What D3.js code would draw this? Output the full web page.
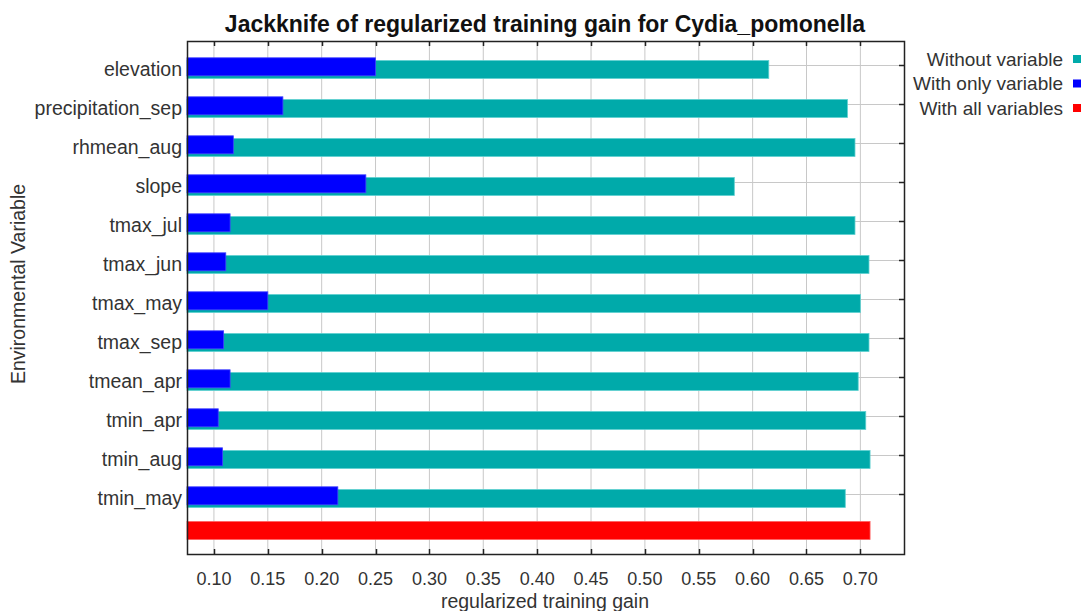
<!DOCTYPE html>
<html>
<head>
<meta charset="utf-8">
<script src="https://cdn.jsdelivr.net/npm/d3@7"></script>
<style>
  body { margin: 0; background: #fff; }
  text { font-family: "Liberation Sans", Arial, sans-serif; fill: #333; }
</style>
</head>
<body>
<div id="chart"></div>
<script>
// chart data
const variables = ["elevation", "precipitation_sep", "rhmean_aug", "slope", "tmax_jul", "tmax_jun",
    "tmax_may", "tmax_sep", "tmean_apr", "tmin_apr", "tmin_aug", "tmin_may"];
const withoutVariable = [0.615, 0.688, 0.695, 0.583, 0.695, 0.708, 0.700, 0.708, 0.698, 0.705, 0.709, 0.686];
const withOnlyVariable = [0.250, 0.164, 0.118, 0.241, 0.115, 0.111, 0.150, 0.109, 0.115, 0.104, 0.108, 0.215];
const withAllVariables = 0.709;
const xTicks = [0.10, 0.15, 0.20, 0.25, 0.30, 0.35, 0.40, 0.45, 0.50, 0.55, 0.60, 0.65, 0.70];
const legendLabels = ["Without variable", "With only variable", "With all variables"];

const width = 1083, height = 611;
const plot = { left: 187, right: 904, top: 41, bottom: 554 };
const colors = { without: "#00aaaa", only: "#0000ff", all: "#ff0000" };
const strokes = { without: "#5fd0d0", only: "#4040ff", all: "#ff6060" };

const svg = d3.select("#chart").append("svg")
    .attr("width", width)
    .attr("height", height);

// Scales
const xScale = d3.scaleLinear()
    .domain([0.075, 0.7405])
    .range([plot.left, plot.right]);

const yScale = d3.scalePoint()
    .domain([...variables, "__all__"])
    .range([65, 533]);

// Grid lines
svg.append("g").selectAll("line")
    .data(xTicks)
    .enter().append("line")
    .attr("x1", d => xScale(d)).attr("x2", d => xScale(d))
    .attr("y1", plot.top).attr("y2", plot.bottom)
    .attr("stroke", "#c8c8c8").attr("stroke-width", 1);

svg.append("g").selectAll("line")
    .data(variables)
    .enter().append("line")
    .attr("x1", plot.left).attr("x2", plot.right)
    .attr("y1", d => yScale(d) + 0.5).attr("y2", d => yScale(d) + 0.5)
    .attr("stroke", "#c8c8c8").attr("stroke-width", 1);

// Inner tick marks on frame
const tickLen = 5;
const tickG = svg.append("g").attr("stroke", "#222").attr("stroke-width", 1.5);
xTicks.forEach(t => {
    const x = Math.round(xScale(t)) + 0.5;
    tickG.append("line").attr("x1", x).attr("x2", x).attr("y1", plot.top).attr("y2", plot.top + tickLen);
    tickG.append("line").attr("x1", x).attr("x2", x).attr("y1", plot.bottom).attr("y2", plot.bottom - tickLen);
});
variables.forEach(v => {
    const y = yScale(v) + 0.5;
    tickG.append("line").attr("x1", plot.right).attr("x2", plot.right - tickLen).attr("y1", y).attr("y2", y);
    tickG.append("line").attr("x1", plot.left).attr("x2", plot.left + tickLen).attr("y1", y).attr("y2", y);
});

// Bars
const barH = 18;
const x0 = xScale.range()[0];

svg.append("g").selectAll("rect")
    .data(variables)
    .enter().append("rect")
    .attr("x", x0)
    .attr("y", d => yScale(d) - 4.5)
    .attr("width", (d, i) => xScale(withoutVariable[i]) - x0)
    .attr("height", barH)
    .attr("fill", colors.without)
    .attr("stroke", strokes.without).attr("stroke-width", 0.8);

svg.append("g").selectAll("rect")
    .data(variables)
    .enter().append("rect")
    .attr("x", x0)
    .attr("y", d => yScale(d) - 7.2)
    .attr("width", (d, i) => xScale(withOnlyVariable[i]) - x0)
    .attr("height", barH)
    .attr("fill", colors.only)
    .attr("stroke", strokes.only).attr("stroke-width", 0.8);

svg.append("rect")
    .attr("x", x0)
    .attr("y", yScale("__all__") - 11.5)
    .attr("width", xScale(withAllVariables) - x0)
    .attr("height", barH)
    .attr("fill", colors.all)
    .attr("stroke", strokes.all).attr("stroke-width", 0.8);

// Frame
svg.append("rect")
    .attr("x", plot.left + 0.5).attr("y", plot.top + 0.5)
    .attr("width", plot.right - plot.left).attr("height", plot.bottom - plot.top)
    .attr("fill", "none").attr("stroke", "#222").attr("stroke-width", 1.5);

// Category labels
svg.append("g").selectAll("text")
    .data(variables)
    .enter().append("text")
    .attr("x", plot.left - 5)
    .attr("y", d => yScale(d) + 4.5)
    .attr("dy", "0.35em")
    .attr("text-anchor", "end")
    .style("font-size", "19.5px")
    .text(d => d);

// X tick labels
svg.append("g").selectAll("text")
    .data(xTicks)
    .enter().append("text")
    .attr("x", d => xScale(d))
    .attr("y", 585)
    .attr("text-anchor", "middle")
    .style("font-size", "18px")
    .text(d => d3.format(".2f")(d));

// Axis titles
svg.append("text")
    .attr("x", 545)
    .attr("y", 608)
    .attr("text-anchor", "middle")
    .style("font-size", "19.5px")
    .text("regularized training gain");

svg.append("text")
    .attr("transform", `translate(25, 284) rotate(-90)`)
    .attr("text-anchor", "middle")
    .style("font-size", "19.5px")
    .text("Environmental Variable");

// Title
svg.append("text")
    .attr("x", 545)
    .attr("y", 32)
    .attr("text-anchor", "middle")
    .style("font-size", "23px")
    .style("font-weight", "bold")
    .style("fill", "#111")
    .text("Jackknife of regularized training gain for Cydia_pomonella");

// Legend
const legendColors = [colors.without, colors.only, colors.all];
const legend = svg.append("g");
legendLabels.forEach((label, i) => {
    const y = 59 + i * 24.5;
    legend.append("text")
        .attr("x", 1063)
        .attr("y", y)
        .attr("dy", "0.35em")
        .attr("text-anchor", "end")
        .style("font-size", "19px")
        .text(label);
    legend.append("rect")
        .attr("x", 1073).attr("y", y - 4)
        .attr("width", 8).attr("height", 8)
        .attr("fill", legendColors[i]);
});
</script>
</body>
</html>
